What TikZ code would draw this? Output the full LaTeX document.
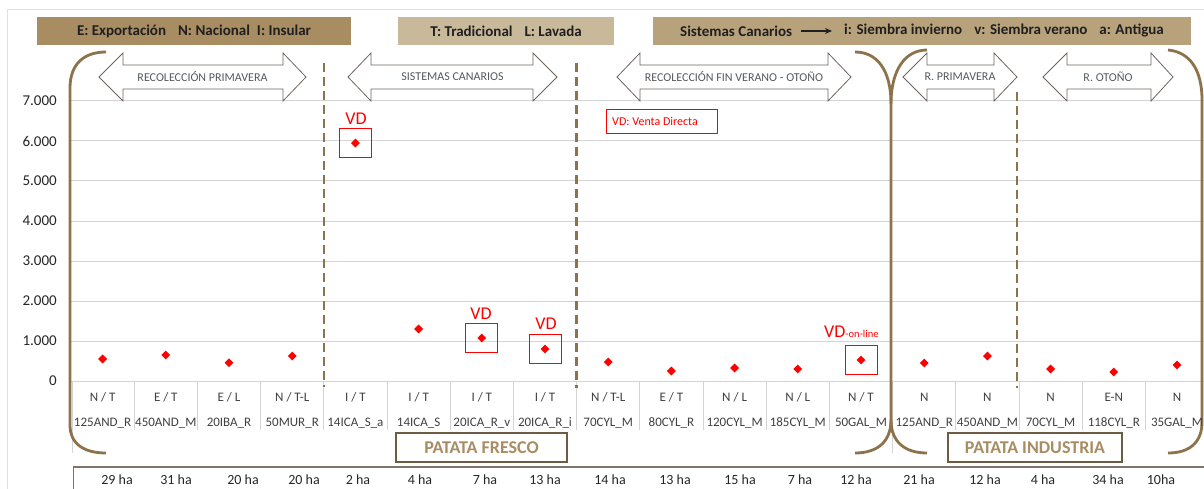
\documentclass[tikz,border=0pt]{standalone}
\usepackage{fontspec}
\setmainfont{Carlito}
\usetikzlibrary{shapes.geometric,arrows.meta}
\definecolor{brownline}{HTML}{8C734B}
\definecolor{boxA}{HTML}{A88C62}
\definecolor{boxB}{HTML}{C9B99B}
\definecolor{boxC}{HTML}{B8A27C}
\definecolor{gridc}{HTML}{D4D4D4}
\definecolor{framec}{HTML}{E0E0E0}
\definecolor{arrowc}{HTML}{6F6560}
\definecolor{arrtext}{HTML}{595959}
\definecolor{labc}{HTML}{404040}
\definecolor{ylabc}{HTML}{262626}
\definecolor{tancol}{HTML}{A88C62}
\definecolor{patframe}{HTML}{6E5B43}
\definecolor{habox}{HTML}{7F7466}
\definecolor{hdrtext}{HTML}{1F1F1F}
\tikzset{
  hdrbox/.style={draw=none, minimum height=28, inner sep=0, text=hdrtext,
    font=\fontsize{15}{18}\selectfont\bfseries},
  hdrtxt/.style={inner sep=0, text=hdrtext, font=\fontsize{15}{18}\selectfont\bfseries},
  ylab/.style={inner sep=0, anchor=east, text=ylabc, font=\fontsize{15}{18}\selectfont},
  catA/.style={inner sep=0, text=labc, font=\fontsize{13}{15}\selectfont},
  catB/.style={inner sep=0, text=labc, font=\fontsize{13}{15}\selectfont},
  halab/.style={inner sep=0, text=ylabc, font=\fontsize{14}{16}\selectfont},
  dot/.style={diamond, fill=red, inner sep=0, minimum width=9, minimum height=9},
  vdbox/.style={draw=red, line width=0.9, inner sep=0, minimum width=32, minimum height=29},
  vdtxt/.style={inner sep=0, text=red, font=\fontsize{18}{20}\selectfont},
  dblarrow/.style={draw=arrowc, fill=white, line width=0.8, line join=miter},
  arrtxt/.style={inner sep=0, text=arrtext, font=\fontsize{12}{14}\selectfont},
  bracket/.style={draw=brownline, line width=2.8, line cap=butt},
  divider/.style={draw=brownline, line width=2.5, dash pattern=on 9pt off 5pt},
  patbox/.style={draw=patframe, line width=1.8, inner sep=0, minimum height=29,
    text=tancol, font=\fontsize{18}{20}\selectfont\bfseries},
  sepline/.style={draw=gridc, line width=0.8},
}
\begin{document}
\begin{tikzpicture}[x=1pt,y=-1pt]
\useasboundingbox (0,0) rectangle (1204,489);
\fill[white] (0,0) rectangle (1204,489);
% chart frame
\draw[framec, line width=0.8] (7,489) -- (7,9) -- (1204,9);

% header boxes
\node[hdrbox, fill=boxA, minimum width=314] (h1) at (194,31) {E: Exportación\hspace{12pt}N: Nacional\hspace{7pt}I: Insular};
\node[hdrbox, fill=boxB, minimum width=216] (h2) at (506,31) {T: Tradicional\hspace{12pt}L: Lavada};
\node[hdrbox, fill=boxC, minimum width=538] (h3) at (922,31) {};
\node[hdrtxt, anchor=west] (h3a) at (680,31) {Sistemas Canarios};
\node[hdrtxt, anchor=east] (h3b) at (1164,31) {i: Siembra invierno\hspace{12pt}v: Siembra verano\hspace{12pt}a: Antigua};
\draw[-{Stealth[length=7pt,width=6pt]}, line width=1.3, hdrtext] ([xshift=9pt]h3a.east) -- ([xshift=-12pt]h3b.west);

% gridlines and y labels
\foreach \v/\lab in {0/0,1/1.000,2/2.000,3/3.000,4/4.000,5/5.000,6/6.000,7/7.000}{
  \draw[gridc, line width=1] (70,{381-40*\v}) -- (1204,{381-40*\v});
  \node[ylab] (y\v) at (57,{381-40*\v}) {\lab};
}

% category separators
\foreach \k in {1,...,17}{
  \draw[sepline] ({71+63.2*\k},381) -- ({71+63.2*\k},430);
}
\draw[sepline] (72.5,381) -- (72.5,453);
\draw[sepline] (892.6,381) -- (892.6,453);

% double arrows
\draw[dblarrow] (99,77) -- (123,53) -- (123,65) -- (283,65) -- (283,53) -- (306,77) -- (283,101) -- (283,89) -- (123,89) -- (123,101) -- cycle;
\node[arrtxt] (a1) at (202.5,77) {RECOLECCIÓN PRIMAVERA};
\draw[dblarrow] (348,77) -- (371,53) -- (371,65) -- (533,65) -- (533,53) -- (557,77) -- (533,101) -- (533,89) -- (371,89) -- (371,101) -- cycle;
\node[arrtxt] (a2) at (452.5,77) {SISTEMAS CANARIOS};
\draw[dblarrow] (617,77) -- (640,53) -- (640,65) -- (828,65) -- (828,53) -- (851,77) -- (828,101) -- (828,89) -- (640,89) -- (640,101) -- cycle;
\node[arrtxt] (a3) at (734,77) {RECOLECCIÓN FIN VERANO - OTOÑO};
\draw[dblarrow] (903,77) -- (927,53) -- (927,65) -- (994,65) -- (994,53) -- (1017,77) -- (994,101) -- (994,89) -- (927,89) -- (927,101) -- cycle;
\node[arrtxt] (a4) at (960,77) {R. PRIMAVERA};
\draw[dblarrow] (1043,77) -- (1067,53) -- (1067,65) -- (1151,65) -- (1151,53) -- (1173,77) -- (1151,101) -- (1151,89) -- (1067,89) -- (1067,101) -- cycle;
\node[arrtxt] (a5) at (1108,77) {R. OTOÑO};

% dashed dividers
\draw[divider] (324,63) -- (324,387);
\draw[divider] (576.5,63) -- (576.5,388);
\draw[divider] (1017,92) -- (1017,388);

% brackets
\draw[bracket] (106,52) .. controls (84,52) and (70,64) .. (70,88) -- (70,425) .. controls (70,444) and (84,453) .. (106,453);
\draw[bracket] (855,52) .. controls (877,52) and (891,70) .. (891,104) -- (891,420);
\draw[bracket] (927,50) .. controls (905,50) and (891,70) .. (891,104);
\draw[bracket] (891,420) .. controls (891,442) and (877,453) .. (855,453);
\draw[bracket] (891,420) .. controls (891,442) and (905,453) .. (927,453);
\draw[bracket] (1168,50) .. controls (1190,52) and (1202,70) .. (1202,100) -- (1202,422) .. controls (1202,442) and (1190,453) .. (1168,453);

% categories and data
\foreach \t/\c/\v [count=\i from 0] in {
  {N / T}/125AND\_R/550, {E / T}/450AND\_M/650, {E / L}/20IBA\_R/458, {N / T-L}/50MUR\_R/625,
  {I / T}/14ICA\_S\_a/5950, {I / T}/14ICA\_S/1300, {I / T}/20ICA\_R\_v/1075, {I / T}/20ICA\_R\_i/800,
  {N / T-L}/70CYL\_M/475, {E / T}/80CYL\_R/250, {N / L}/120CYL\_M/325, {N / L}/185CYL\_M/300,
  {N / T}/50GAL\_M/525, {N}/125AND\_R/450, {N}/450AND\_M/625, {N}/70CYL\_M/300,
  {E-N}/118CYL\_R/225, {N}/35GAL\_M/400}{
  \node[catA] (ca\i) at ({71+63.2*(\i+0.5)},397) {\t};
  \node[catB] (cb\i) at ({71+63.2*(\i+0.5)},423) {\c};
  \node[dot] (d\i) at ({71+63.2*(\i+0.5)},{381-0.04*\v}) {};
}

% VD markers
\node[vdbox] (vb4) at (d4) {};
\node[vdtxt] (vt4) at (356,118.5) {VD};
\node[vdbox] (vb6) at (d6) {};
\node[vdtxt] (vt6) at (481,314) {VD};
\node[vdbox] (vb7) at (d7) {};
\node[vdtxt] (vt7) at (546,324) {VD};
\node[vdbox] (vb12) at (d12) {};
\node[inner sep=0, text=red, anchor=base west] (vt12) at (824,337) {\fontsize{18}{20}\selectfont VD\fontsize{10.5}{12}\selectfont -on-line};
\node[draw=red, line width=0.9, minimum width=111, minimum height=24, inner sep=0] (leg) at (661.5,121) {};
\node[inner sep=0, text=red, anchor=west, font=\fontsize{12}{14}\selectfont] (legt) at (612,121) {VD: Venta Directa};

% group boxes
\node[patbox, minimum width=171] (pf) at (481.5,447.5) {PATATA FRESCO};
\node[patbox, minimum width=174] (pi) at (1035,447.5) {PATATA INDUSTRIA};

% hectares row
\draw[habox, line width=1.4] (73.5,489) -- (73.5,467) -- (1204,467);
\foreach \x/\t [count=\i] in {117/29 ha,176/31 ha,243/20 ha,304/20 ha,358/2 ha,420/4 ha,485/7 ha,545/13 ha,610/14 ha,
  675/13 ha,740/15 ha,800/7 ha,856/12 ha,919/21 ha,985/12 ha,1043/4 ha,1108/34 ha,1161/10ha}{
  \node[halab] (ha\i) at (\x,480) {\t};
}
\end{tikzpicture}
\end{document}
